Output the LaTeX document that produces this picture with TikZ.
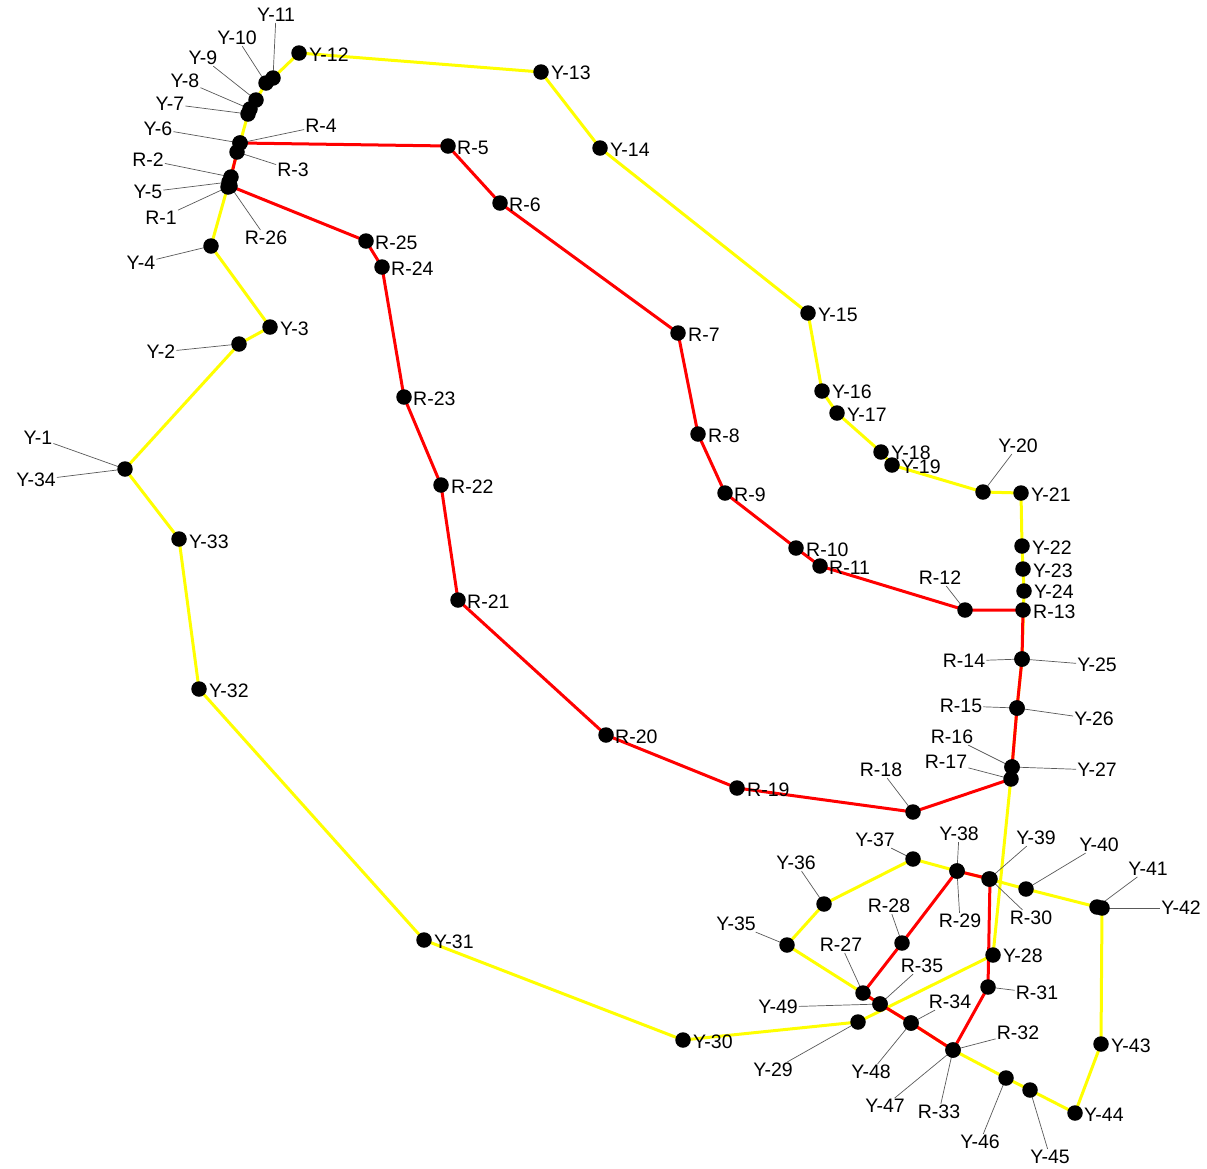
\documentclass[tikz,border=0pt]{standalone}
\usepackage{fontspec}
\setmainfont{Liberation Sans}
\begin{document}
\begin{tikzpicture}[x=1pt,y=-1pt,
  dot/.style={circle,fill=black,draw=none,minimum size=15.5pt,inner sep=0pt},
  lab/.style={font=\fontsize{19.5}{19.5}\selectfont,inner sep=1pt,text=black},
  rl/.style={lab,anchor=west},
  lead/.style={draw=black!65,line width=0.7pt},
  yl/.style={draw={rgb,255:red,255;green,255;blue,0},line width=3pt,line join=round},
  rd/.style={draw={rgb,255:red,255;green,0;blue,0},line width=3pt,line join=round}]
\useasboundingbox (0,0) rectangle (1207,1168);
% ---- yellow nodes
\coordinate (Y1) at (125,469); \coordinate (Y34) at (125,469);
\coordinate (Y2) at (239,344); \coordinate (Y3) at (270,327);
\coordinate (Y4) at (211,246); \coordinate (Y5) at (229,182);
\coordinate (Y6) at (240,143); \coordinate (Y7) at (248,114);
\coordinate (Y8) at (250,109); \coordinate (Y9) at (256,100);
\coordinate (Y10) at (266,83); \coordinate (Y11) at (273,78);
\coordinate (Y12) at (299,53); \coordinate (Y13) at (541,72);
\coordinate (Y14) at (600,148); \coordinate (Y15) at (808,313);
\coordinate (Y16) at (822,391); \coordinate (Y17) at (837,413);
\coordinate (Y18) at (881,452); \coordinate (Y19) at (892,465);
\coordinate (Y20) at (983,492); \coordinate (Y21) at (1021,493);
\coordinate (Y22) at (1022,546); \coordinate (Y23) at (1023,569);
\coordinate (Y24) at (1024,591); \coordinate (Y25) at (1022,659);
\coordinate (Y26) at (1017,708); \coordinate (Y27) at (1012,767);
\coordinate (Y28) at (993,955); \coordinate (Y29) at (858,1022);
\coordinate (Y30) at (683,1040); \coordinate (Y31) at (424,940);
\coordinate (Y32) at (199,689); \coordinate (Y33) at (179,539);
\coordinate (Y35) at (787,945); \coordinate (Y36) at (824,904);
\coordinate (Y37) at (913,859); \coordinate (Y38) at (957,871);
\coordinate (Y39) at (989,879); \coordinate (Y40) at (1026,889);
\coordinate (Y41) at (1097,907); \coordinate (Y42) at (1102,908);
\coordinate (Y43) at (1101,1044); \coordinate (Y44) at (1075,1113);
\coordinate (Y45) at (1030,1090); \coordinate (Y46) at (1006,1078);
\coordinate (Y47) at (953,1050); \coordinate (Y48) at (911,1023);
\coordinate (Y49) at (880,1004);
% ---- red nodes
\coordinate (R1) at (228,187); \coordinate (R2) at (231,177);
\coordinate (R3) at (237,152); \coordinate (R4) at (240,143);
\coordinate (R5) at (448,146); \coordinate (R6) at (500,203);
\coordinate (R7) at (678,333); \coordinate (R8) at (698,434);
\coordinate (R9) at (725,493); \coordinate (R10) at (796,548);
\coordinate (R11) at (820,566); \coordinate (R12) at (965,610);
\coordinate (R13) at (1023,610); \coordinate (R14) at (1022,659);
\coordinate (R15) at (1017,708); \coordinate (R16) at (1012,767);
\coordinate (R17) at (1011,779); \coordinate (R18) at (913,812);
\coordinate (R19) at (737,788); \coordinate (R20) at (606,735);
\coordinate (R21) at (458,600); \coordinate (R22) at (441,485);
\coordinate (R23) at (404,397); \coordinate (R24) at (382,267);
\coordinate (R25) at (366,241); \coordinate (R26) at (230,186);
\coordinate (R27) at (863,993); \coordinate (R28) at (902,943);
\coordinate (R29) at (957,871); \coordinate (R30) at (990,879);
\coordinate (R31) at (988,987); \coordinate (R32) at (953,1050);
\coordinate (R33) at (953,1050); \coordinate (R34) at (911,1023);
\coordinate (R35) at (880,1004);
% ---- yellow lines
\draw[yl] (Y1) -- (Y2) -- (Y3) -- (Y4) -- (Y5) -- (Y6) -- (Y7) -- (Y8) -- (Y9) -- (Y10) -- (Y11) -- (Y12) -- (Y13) -- (Y14) -- (Y15) -- (Y16) -- (Y17) -- (Y18) -- (Y19) -- (Y20) -- (Y21) -- (Y22) -- (Y23) -- (Y24) -- (Y25) -- (Y26) -- (Y27) -- (Y28) -- (Y29) -- (Y30) -- (Y31) -- (Y32) -- (Y33) -- (Y34);
\draw[yl] (Y35) -- (Y36) -- (Y37) -- (Y38) -- (Y39) -- (Y40) -- (Y41) -- (Y42) -- (Y43) -- (Y44) -- (Y45) -- (Y46) -- (Y47) -- (Y48) -- (Y49) -- cycle;
% ---- red lines
\draw[rd] (R1) -- (R2) -- (R3) -- (R4) -- (R5) -- (R6) -- (R7) -- (R8) -- (R9) -- (R10) -- (R11) -- (R12) -- (R13) -- (R14) -- (R15) -- (R16) -- (R17) -- (R18) -- (R19) -- (R20) -- (R21) -- (R22) -- (R23) -- (R24) -- (R25) -- (R26);
\draw[rd] (R27) -- (R28) -- (R29) -- (R30) -- (R31) -- (R32) -- (R33) -- (R34) -- (R35) -- cycle;
% ---- leader labels
\node[lab] (lY1) at (38,438) {Y-1};
\node[lab] (lY34) at (36,480) {Y-34};
\node[lab] (lY2) at (161,352) {Y-2};
\node[lab] (lY4) at (141,263) {Y-4};
\node[lab] (lY5) at (148,192) {Y-5};
\node[lab] (lR1) at (161,218) {R-1};
\node[lab] (lR2) at (148,160) {R-2};
\node[lab] (lY6) at (158,129) {Y-6};
\node[lab] (lR3) at (293,170) {R-3};
\node[lab] (lR4) at (321,126) {R-4};
\node[lab] (lR26) at (266,238) {R-26};
\node[lab] (lY7) at (170,104) {Y-7};
\node[lab] (lY8) at (185,81) {Y-8};
\node[lab] (lY9) at (203,58) {Y-9};
\node[lab] (lY10) at (237,38) {Y-10};
\node[lab] (lY11) at (276,15) {Y-11};
\node[lab] (lY20) at (1018,446) {Y-20};
\node[lab] (lR12) at (940,578) {R-12};
\node[lab] (lR14) at (964,661) {R-14};
\node[lab] (lY25) at (1097,665) {Y-25};
\node[lab] (lR15) at (961,706) {R-15};
\node[lab] (lY26) at (1094,719) {Y-26};
\node[lab] (lR16) at (952,737) {R-16};
\node[lab] (lR17) at (946,762) {R-17};
\node[lab] (lY27) at (1097,770) {Y-27};
\node[lab] (lR18) at (881,770) {R-18};
\node[lab] (lY37) at (875,840) {Y-37};
\node[lab] (lY38) at (959,834) {Y-38};
\node[lab] (lY39) at (1036,838) {Y-39};
\node[lab] (lY40) at (1099,845) {Y-40};
\node[lab] (lY41) at (1148,869) {Y-41};
\node[lab] (lY42) at (1181,908) {Y-42};
\node[lab] (lR29) at (960,921) {R-29};
\node[lab] (lR30) at (1031,918) {R-30};
\node[lab] (lY36) at (796,863) {Y-36};
\node[lab] (lY35) at (736,924) {Y-35};
\node[lab] (lR28) at (889,906) {R-28};
\node[lab] (lR27) at (841,945) {R-27};
\node[lab] (lR35) at (922,966) {R-35};
\node[lab] (lY49) at (778,1007) {Y-49};
\node[lab] (lR34) at (950,1002) {R-34};
\node[lab] (lR32) at (1018,1033) {R-32};
\node[lab] (lY48) at (871,1072) {Y-48};
\node[lab] (lY47) at (885,1106) {Y-47};
\node[lab] (lR33) at (939,1112) {R-33};
\node[lab] (lY46) at (980,1142) {Y-46};
\node[lab] (lY45) at (1050,1157) {Y-45};
\node[lab] (lY29) at (773,1070) {Y-29};
\node[lab] (lR31) at (1037,993) {R-31};
\foreach \n in {Y1,Y34,Y2,Y4,Y5,R1,R2,Y6,R3,R4,R26,Y7,Y8,Y9,Y10,Y11,Y20,R12,R14,Y25,R15,Y26,R16,R17,Y27,R18,Y37,Y38,Y39,Y40,Y41,Y42,R29,R30,Y36,Y35,R28,R27,R35,Y49,R34,R32,Y48,Y47,R33,Y46,Y45,Y29,R31}
  \draw[lead] (\n) -- (l\n);
% ---- right-side labels
\node[rl] (lY3) at (279,329) {Y-3};
\node[rl] (lY12) at (308,55) {Y-12};
\node[rl] (lY13) at (550,73) {Y-13};
\node[rl] (lY14) at (609,150) {Y-14};
\node[rl] (lY15) at (817,315) {Y-15};
\node[rl] (lY16) at (831,392) {Y-16};
\node[rl] (lY17) at (846,415) {Y-17};
\node[rl] (lY18) at (890,453) {Y-18};
\node[rl] (lY19) at (900,467) {Y-19};
\node[rl] (lY21) at (1030,495) {Y-21};
\node[rl] (lY22) at (1031,548) {Y-22};
\node[rl] (lY23) at (1032,571) {Y-23};
\node[rl] (lY24) at (1033,592) {Y-24};
\node[rl] (lR13) at (1032,612) {R-13};
\node[rl] (lY28) at (1002,956) {Y-28};
\node[rl] (lY30) at (692,1042) {Y-30};
\node[rl] (lY31) at (433,942) {Y-31};
\node[rl] (lY32) at (208,691) {Y-32};
\node[rl] (lY33) at (188,542) {Y-33};
\node[rl] (lY43) at (1110,1046) {Y-43};
\node[rl] (lY44) at (1083,1115) {Y-44};
\node[rl] (lR5) at (456,148) {R-5};
\node[rl] (lR6) at (508,205) {R-6};
\node[rl] (lR7) at (687,335) {R-7};
\node[rl] (lR8) at (707,436) {R-8};
\node[rl] (lR9) at (733,495) {R-9};
\node[rl] (lR10) at (805,550) {R-10};
\node[rl] (lR11) at (828,568) {R-11};
\node[rl] (lR19) at (746,790) {R-19};
\node[rl] (lR20) at (614,737) {R-20};
\node[rl] (lR21) at (466,602) {R-21};
\node[rl] (lR22) at (450,487) {R-22};
\node[rl] (lR23) at (412,399) {R-23};
\node[rl] (lR24) at (390,269) {R-24};
\node[rl] (lR25) at (374,243) {R-25};
% ---- dots
\foreach \n in {Y1,Y2,Y3,Y4,Y5,Y6,Y7,Y8,Y9,Y10,Y11,Y12,Y13,Y14,Y15,Y16,Y17,Y18,Y19,Y20,Y21,Y22,Y23,Y24,Y25,Y26,Y27,Y28,Y29,Y30,Y31,Y32,Y33,Y35,Y36,Y37,Y38,Y39,Y40,Y41,Y42,Y43,Y44,Y45,Y46,Y47,Y48,Y49,R1,R2,R3,R4,R5,R6,R7,R8,R9,R10,R11,R12,R13,R14,R15,R16,R17,R18,R19,R20,R21,R22,R23,R24,R25,R26,R27,R28,R29,R30,R31,R32,R34,R35}
  \node[dot] at (\n) {};
\end{tikzpicture}
\end{document}
